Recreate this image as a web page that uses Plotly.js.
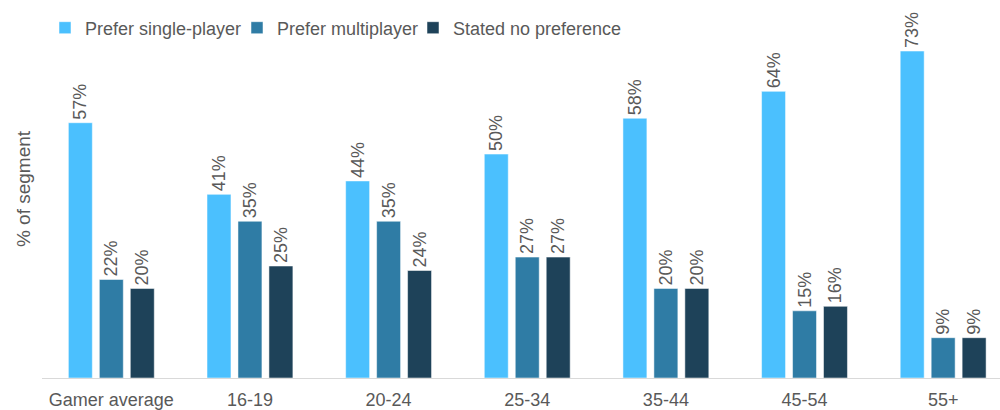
<!DOCTYPE html>
<html>
<head>
<meta charset="utf-8">
<script src="https://cdn.plot.ly/plotly-3.0.1.min.js"></script>
<style>html,body{margin:0;padding:0;background:#fff;}#chart{width:1000px;height:410px;}</style>
</head>
<body>
<div id="chart"></div>
<script>
const categories = ["Gamer average", "16-19", "20-24", "25-34", "35-44", "45-54", "55+"];
const seriesNames = ["Prefer single-player", "Prefer multiplayer", "Stated no preference"];
const singlePlayer = [57, 41, 44, 50, 58, 64, 73];
const multiplayer = [22, 35, 35, 27, 20, 15, 9];
const noPreference = [20, 25, 24, 27, 20, 16, 9];
const colors = ["#4bc0fe", "#2f7ca5", "#1e4259"];

const font = "Liberation Sans, Arial, sans-serif";
const textColor = "#595959";
const values = [singlePlayer, multiplayer, noPreference];
const legendIds = ["legend", "legend2", "legend3"];
const legendLeft = [45, 237, 413];

const W = 1000, H = 410, ML = 42, MB = 32, MT = 0;
const plotW = W - ML, plotH = H - MB - MT;

const data = values.map((v, i) => ({
  type: "bar",
  name: seriesNames[i],
  legend: legendIds[i],
  x: categories,
  y: v,
  marker: {color: colors[i], line: {color: "rgba(255,255,255,0.5)", width: 1}},
  text: v.map(d => d + "%"),
  textposition: "outside",
  textangle: -90,
  constraintext: "none",
  cliponaxis: false,
  textfont: {family: font, size: 18, color: textColor},
  hoverinfo: "skip"
}));

const layout = {
  width: W, height: H,
  margin: {l: ML, r: 0, t: MT, b: MB, autoexpand: false},
  paper_bgcolor: "#fff", plot_bgcolor: "#fff",
  barmode: "group",
  bargap: 0.33,
  bargroupgap: 0.226,
  showlegend: true,
  xaxis: {type: "category", range: [-0.5, 6.41], showline: true, linecolor: "#d9d9d9", linewidth: 1,
          ticks: "", showgrid: false, zeroline: false, ticklabelstandoff: 5,
          tickfont: {family: font, size: 18, color: textColor}},
  yaxis: {range: [0, 84.4], showgrid: false, zeroline: false, showticklabels: false, ticks: "",
          title: {text: "% of segment", font: {family: font, size: 19, color: textColor}, standoff: 5}},
  font: {family: font}
};
legendIds.forEach((id, i) => {
  layout[id] = {
    orientation: "h", xref: "paper", yref: "paper",
    x: (legendLeft[i] - ML) / plotW, xanchor: "left",
    y: 1 - (28 - MT) / plotH, yanchor: "middle",
    bgcolor: "rgba(0,0,0,0)", borderwidth: 0,
    font: {family: font, size: 18, color: textColor}
  };
});

Plotly.newPlot("chart", data, layout, {displayModeBar: false, staticPlot: true});
</script>
</body>
</html>
